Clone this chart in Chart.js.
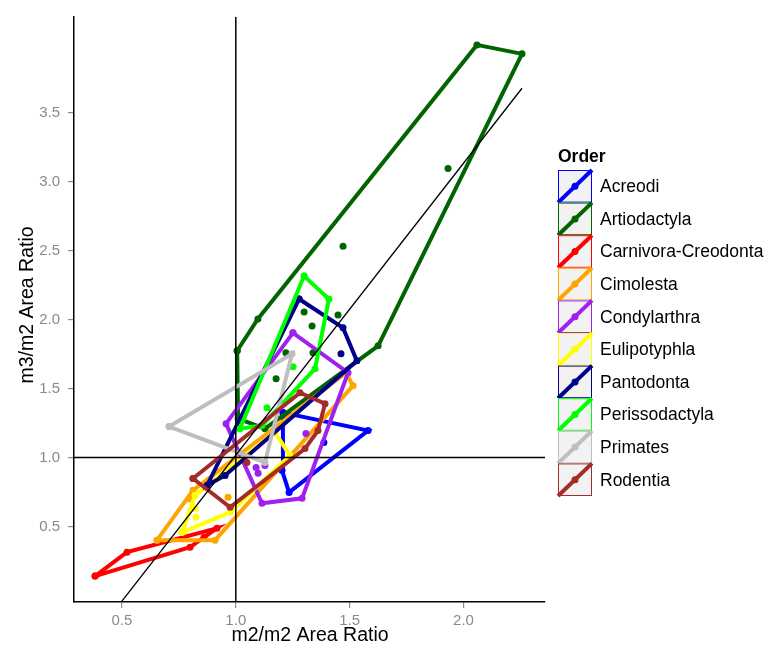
<!DOCTYPE html>
<html>
<head>
<meta charset="utf-8">
<script src="https://cdn.jsdelivr.net/npm/chart.js@4.4.0/dist/chart.umd.min.js"></script>
<style>
  html, body { margin: 0; padding: 0; background: #fff; }
</style>
</head>
<body>
<canvas id="chart" width="771" height="654"></canvas>
<script>
// hull vertices and loose points per order
const orders = ["Acreodi", "Artiodactyla", "Carnivora-Creodonta", "Cimolesta", "Condylarthra",
  "Eulipotyphla", "Pantodonta", "Perissodactyla", "Primates", "Rodentia"];
const colors = ["#0000FF", "#006400", "#FF0000", "#FFA500", "#A020F0",
  "#FFFF00", "#00008B", "#00FF00", "#BEBEBE", "#A52A2A"];

const acreodiHull = [[1.207, 1.325], [1.581, 1.195], [1.234, 0.747], [1.203, 0.906]];
const acreodiPts = [[1.387, 1.108], [1.225, 1.31]];
const artiodactylaHull = [[1.006, 1.773], [1.097, 2.004], [2.059, 3.989], [2.257, 3.924],
  [1.625, 1.809], [1.128, 1.209], [1.010, 1.282]];
const artiodactylaPts = [[1.932, 3.094], [1.471, 2.531], [1.300, 2.054], [1.449, 2.032],
  [1.335, 1.953], [1.220, 1.758], [1.339, 1.758], [1.177, 1.570]];
const carnivoraHull = [[0.382, 0.141], [0.522, 0.314], [0.917, 0.487], [0.799, 0.350]];
const carnivoraPts = [[0.86, 0.42]];
const cimolestaHull = [[0.654, 0.401], [0.909, 0.401], [1.515, 1.520], [1.484, 1.614], [0.812, 0.762]];
const cimolestaPts = [[0.966, 0.711], [0.80, 0.70]];
const condylarthraHull = [[1.251, 1.903], [1.493, 1.614], [1.291, 0.704], [1.115, 0.668], [0.957, 1.245]];
const condylarthraPts = [[1.308, 1.173], [1.089, 0.928], [1.098, 0.885], [1.128, 0.942]];
const eulipotyphlaHull = [[0.764, 0.458], [0.975, 0.603], [1.238, 1.014], [1.172, 1.181], [0.821, 0.726]];
const eulipotyphlaPts = [[0.825, 0.567], [0.821, 0.632]];
const pantodontaHull = [[1.278, 2.148], [1.471, 1.939], [1.532, 1.700], [0.953, 0.870], [0.874, 0.798]];
const pantodontaPts = [[1.462, 1.751]];
const perissodactylaHull = [[1.300, 2.314], [1.409, 2.148], [1.348, 1.643], [1.115, 1.231], [1.018, 1.209]];
const perissodactylaPts = [[1.137, 1.361], [1.251, 1.657]];
const primatesHull = [[0.707, 1.224], [1.247, 1.751], [1.128, 0.964]];
const primatesPts = [];
const rodentiaHull = [[0.812, 0.848], [1.282, 1.469], [1.392, 1.390], [1.361, 1.195],
  [1.304, 1.065], [0.975, 0.639]];
const rodentiaPts = [[1.049, 0.964]];

const hulls = [acreodiHull, artiodactylaHull, carnivoraHull, cimolestaHull, condylarthraHull,
  eulipotyphlaHull, pantodontaHull, perissodactylaHull, primatesHull, rodentiaHull];
const points = [acreodiPts, artiodactylaPts, carnivoraPts, cimolestaPts, condylarthraPts,
  eulipotyphlaPts, pantodontaPts, perissodactylaPts, primatesPts, rodentiaPts];

const xTicks = [0.5, 1.0, 1.5, 2.0];
const yTicks = [0.5, 1.0, 1.5, 2.0, 2.5, 3.0, 3.5];
const fitLineX = [0.382, 2.257];
const fitLineY = [-0.29, 3.675];

const FONT = "'Liberation Sans', Arial, sans-serif";

const toXY = arr => arr.map(p => ({ x: p[0], y: p[1] }));

const datasets = [];
orders.forEach((name, i) => {
  const ring = hulls[i].concat([hulls[i][0]]);
  datasets.push({
    label: name,
    data: toXY(ring),
    showLine: true,
    borderColor: colors[i],
    borderWidth: 4,
    pointRadius: 3.5,
    pointBorderWidth: 0,
    pointBackgroundColor: colors[i],
    order: 100 - i * 2
  });
  datasets.push({
    label: name + " points",
    data: toXY(points[i]),
    showLine: false,
    pointRadius: 3.5,
    pointBorderWidth: 0,
    pointBackgroundColor: colors[i],
    order: 99 - i * 2
  });
});

// reference lines on top
datasets.push({ data: [{ x: 1, y: -1 }, { x: 1, y: 5 }], showLine: true, borderColor: "#000",
  borderWidth: 1.5, pointRadius: 0, order: 2 });
datasets.push({ data: [{ x: 0, y: 1 }, { x: 3, y: 1 }], showLine: true, borderColor: "#000",
  borderWidth: 1.5, pointRadius: 0, order: 1 });
datasets.push({ data: [{ x: fitLineX[0], y: fitLineY[0] }, { x: fitLineX[1], y: fitLineY[1] }],
  showLine: true, borderColor: "#000", borderWidth: 1.3, pointRadius: 0, order: 0 });

const decorPlugin = {
  id: "decor",
  afterDraw(chart) {
    const ctx = chart.ctx;
    ctx.save();
    ctx.fillStyle = "#000";
    ctx.font = "19.5px " + FONT;
    ctx.textAlign = "center";
    ctx.textBaseline = "middle";
    ctx.fillText("m2/m2 Area Ratio", 310, 636);
    ctx.save();
    ctx.translate(28, 305);
    ctx.rotate(-Math.PI / 2);
    ctx.fillText("m3/m2 Area Ratio", 0, 0);
    ctx.restore();

    // legend
    ctx.textAlign = "left";
    ctx.font = "bold 17.5px " + FONT;
    ctx.fillText("Order", 558, 157);
    ctx.font = "17.5px " + FONT;
    const bx = 558, by = 170, bw = 34, bh = 32.6;
    orders.forEach((name, i) => {
      const y0 = by + i * bh;
      ctx.fillStyle = "#F2F2F2";
      ctx.fillRect(bx, y0, bw, bh);
      ctx.strokeStyle = colors[i];
      ctx.lineWidth = 1;
      ctx.strokeRect(bx + 0.5, y0 + 0.5, bw - 1, bh - 1);
      ctx.lineWidth = 4;
      ctx.beginPath();
      ctx.moveTo(bx, y0 + bh);
      ctx.lineTo(bx + bw, y0);
      ctx.stroke();
      ctx.fillStyle = colors[i];
      ctx.beginPath();
      ctx.arc(bx + bw / 2, y0 + bh / 2, 3.5, 0, Math.PI * 2);
      ctx.fill();
      ctx.fillStyle = "#000";
      ctx.fillText(name, 600, y0 + bh / 2 + 1);
    });
    ctx.restore();
  }
};

new Chart(document.getElementById("chart").getContext("2d"), {
  type: "scatter",
  data: { datasets },
  options: {
    responsive: false,
    animation: false,
    layout: { padding: { left: 0, top: 15, right: 226, bottom: 0 } },
    plugins: { legend: { display: false }, tooltip: { enabled: false } },
    scales: {
      x: {
        type: "linear",
        min: 0.2894,
        max: 2.358,
        afterBuildTicks: s => { s.ticks = xTicks.map(v => ({ value: v })); },
        afterFit: s => { s.height = 52; },
        grid: { drawOnChartArea: false, tickLength: 6, color: "#8c8c8c", lineWidth: 1.2 },
        border: { color: "#000", width: 1.5 },
        ticks: { color: "#8a8a8a", font: { family: FONT, size: 15 }, padding: 4,
          callback: v => v.toFixed(1) }
      },
      y: {
        type: "linear",
        min: -0.047,
        max: 4.191,
        afterBuildTicks: s => { s.ticks = yTicks.map(v => ({ value: v })); },
        afterFit: s => { s.width = 74; },
        grid: { drawOnChartArea: false, tickLength: 6, color: "#8c8c8c", lineWidth: 1.2 },
        border: { color: "#000", width: 1.5 },
        ticks: { color: "#8a8a8a", font: { family: FONT, size: 15 }, padding: 8,
          callback: v => v.toFixed(1) }
      }
    }
  },
  plugins: [decorPlugin]
});
</script>
</body>
</html>
